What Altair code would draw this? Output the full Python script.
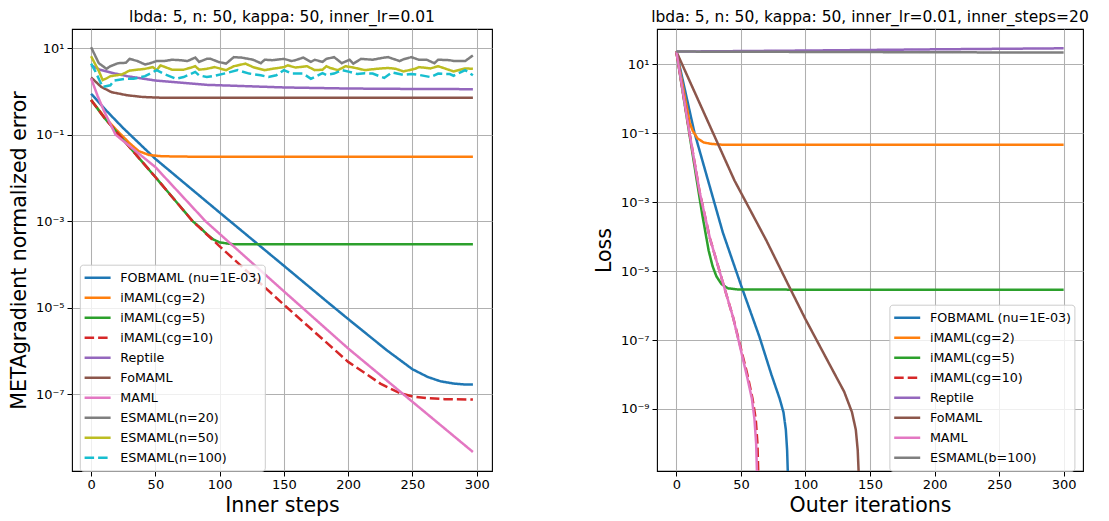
import altair as alt
import pandas as pd

# ---------------- Left panel (values given as log10 exponents) ----------------
L_NAMES = ["FOBMAML (nu=1E-03)", "iMAML(cg=2)", "iMAML(cg=5)", "iMAML(cg=10)", "Reptile",
           "FoMAML", "MAML", "ESMAML(n=20)", "ESMAML(n=50)", "ESMAML(n=100)"]
L_COLORS = ["#1f77b4", "#ff7f0e", "#2ca02c", "#d62728", "#9467bd",
            "#8c564b", "#e377c2", "#7f7f7f", "#bcbd22", "#17becf"]
L_DASHED = ["iMAML(cg=10)", "ESMAML(n=100)"]

fob_x = [0, 12, 25, 50, 100, 150, 184, 200, 230, 250, 262, 272, 282, 290, 297]
fob_e = [-0.055, -0.45, -0.85, -1.56, -2.8, -4.03, -4.87, -5.26, -5.98, -6.42, -6.6, -6.7, -6.75, -6.77, -6.77]

im2_x = [0, 10, 20, 30, 37, 45, 55, 80, 150, 297]
im2_e = [-0.2, -0.58, -0.9, -1.2, -1.38, -1.47, -1.5, -1.51, -1.51, -1.51]

im5_x = [0, 10, 25, 50, 79, 85, 90, 95, 100, 110, 130, 200, 297]
im5_e = [-0.2, -0.6, -1.12, -1.98, -3.0, -3.15, -3.3, -3.42, -3.49, -3.53, -3.53, -3.53, -3.53]

im10_x = [0, 10, 25, 50, 79, 100, 150, 200, 225, 240, 250, 262, 275, 297]
im10_e = [-0.2, -0.6, -1.12, -1.98, -3.0, -3.58, -4.93, -6.25, -6.75, -6.97, -7.05, -7.09, -7.11, -7.12]

rep_x = [0, 7, 16, 28, 50, 90, 100, 150, 200, 250, 297]
rep_e = [0.6, 0.5, 0.43, 0.35, 0.25, 0.15, 0.14, 0.09, 0.065, 0.055, 0.05]

fo_x = [0, 8, 16, 28, 40, 55, 80, 297]
fo_e = [0.32, 0.1, -0.02, -0.09, -0.13, -0.148, -0.15, -0.15]

maml_x = [0, 5, 10, 19, 50, 89, 150, 200, 297]
maml_e = [0.3, -0.1, -0.45, -1.0, -1.75, -3.0, -4.62, -5.94, -8.33]

es20_x = [0, 6, 12, 15, 21, 27, 30, 36, 42, 45, 51, 57, 63, 69, 75, 81, 84, 90, 93, 99, 105,
          111, 117, 126, 132, 135, 141, 150, 156, 159, 165, 171, 174, 180, 183, 189, 195, 201,
          204, 210, 219, 228, 231, 240, 243, 249, 255, 261, 267, 270, 279, 282, 291, 297]
es20_e = [1.02, 0.65, 0.52, 0.58, 0.65, 0.66, 0.75, 0.70, 0.62, 0.64, 0.70, 0.70, 0.73, 0.72,
          0.70, 0.78, 0.68, 0.75, 0.75, 0.68, 0.64, 0.79, 0.78, 0.73, 0.65, 0.73, 0.72, 0.75,
          0.70, 0.72, 0.78, 0.68, 0.73, 0.68, 0.75, 0.79, 0.65, 0.73, 0.64, 0.75, 0.73, 0.78,
          0.79, 0.70, 0.74, 0.79, 0.73, 0.73, 0.65, 0.73, 0.72, 0.70, 0.70, 0.83]

es50_x = [0, 6, 9, 12, 15, 24, 30, 42, 48, 51, 54, 63, 72, 78, 81, 84, 90, 96, 105, 111, 120,
          126, 135, 141, 150, 153, 159, 168, 174, 180, 183, 186, 192, 198, 204, 213, 222, 231,
          237, 243, 252, 255, 264, 270, 279, 282, 291, 297]
es50_e = [0.81, 0.47, 0.26, 0.3, 0.35, 0.39, 0.48, 0.52, 0.56, 0.49, 0.60, 0.50, 0.50, 0.55,
          0.58, 0.50, 0.52, 0.56, 0.49, 0.58, 0.64, 0.56, 0.49, 0.52, 0.56, 0.60, 0.55, 0.58,
          0.49, 0.50, 0.58, 0.54, 0.49, 0.58, 0.55, 0.49, 0.52, 0.54, 0.52, 0.46, 0.52, 0.56,
          0.53, 0.58, 0.49, 0.46, 0.53, 0.52]

es100_x = [0, 3, 9, 15, 18, 27, 33, 42, 51, 57, 66, 72, 81, 84, 90, 96, 105, 114, 123, 132,
           138, 144, 150, 156, 165, 171, 180, 183, 189, 195, 201, 207, 213, 219, 228, 234, 243,
           249, 255, 264, 270, 279, 282, 291, 297]
es100_e = [0.64, 0.48, 0.10, 0.14, 0.25, 0.29, 0.29, 0.35, 0.49, 0.40, 0.29, 0.33, 0.45, 0.37,
           0.33, 0.36, 0.42, 0.49, 0.41, 0.37, 0.33, 0.37, 0.49, 0.41, 0.41, 0.29, 0.42, 0.38,
           0.41, 0.49, 0.45, 0.40, 0.42, 0.41, 0.31, 0.44, 0.38, 0.40, 0.38, 0.33, 0.41, 0.40,
           0.36, 0.49, 0.37]

# ---------------- Right panel (values given as log10 exponents) ----------------
R_NAMES = ["FOBMAML (nu=1E-03)", "iMAML(cg=2)", "iMAML(cg=5)", "iMAML(cg=10)", "Reptile",
           "FoMAML", "MAML", "ESMAML(b=100)"]
R_COLORS = ["#1f77b4", "#ff7f0e", "#2ca02c", "#d62728", "#9467bd",
            "#8c564b", "#e377c2", "#7f7f7f"]
R_DASHED = ["iMAML(cg=10)"]

r_fob_x = [0, 14, 36, 50, 64.3, 73.6, 80, 83, 84.8, 85.8, 86.3, 86.6]
r_fob_e = [1.37, -0.98, -3.88, -5.4, -6.9, -8.0, -8.7, -9.1, -9.6, -10.2, -10.8, -12.0]

r_im2_x = [0, 10.3, 12.7, 16.4, 21.3, 27.5, 34.8, 60, 300]
r_im2_e = [1.37, -0.69, -0.93, -1.15, -1.27, -1.31, -1.33, -1.33, -1.33]

r_im5_x = [0, 10, 20, 25, 28, 31, 35, 40, 47, 100, 300]
r_im5_e = [1.37, -1.0, -3.35, -4.4, -4.85, -5.15, -5.38, -5.5, -5.53, -5.54, -5.54]

r_im10_x = [0, 10, 18, 26, 35, 44, 50, 55, 59, 61.5, 62.8, 63.4, 63.7]
r_im10_e = [1.37, -0.95, -2.7, -4.05, -5.2, -6.35, -7.25, -8.0, -8.7, -9.3, -10.0, -10.8, -12.0]

r_rep_x = [0, 100, 200, 300]
r_rep_e = [1.37, 1.40, 1.435, 1.465]

r_fo_x = [0, 45, 69.7, 88.2, 99.8, 119, 130, 136, 139, 140.5, 141.2, 141.5]
r_fo_e = [1.37, -2.37, -4.11, -5.51, -6.38, -7.73, -8.5, -9.09, -9.6, -10.2, -10.83, -12.0]

r_maml_x = [0, 10, 18, 26, 35, 44, 50, 55, 58.5, 60.5, 61.8, 62.4, 62.7]
r_maml_e = [1.37, -0.95, -2.7, -4.05, -5.2, -6.35, -7.3, -8.1, -8.7, -9.3, -10.0, -10.8, -12.0]

r_es_x = [0, 100, 200, 300]
r_es_e = [1.37, 1.36, 1.35, 1.34]


def series(xs, es, name):
    return pd.DataFrame({"x": xs, "y": [10.0 ** e for e in es], "series": name})


left_df = pd.concat([
    series(fob_x, fob_e, L_NAMES[0]), series(im2_x, im2_e, L_NAMES[1]),
    series(im5_x, im5_e, L_NAMES[2]), series(im10_x, im10_e, L_NAMES[3]),
    series(rep_x, rep_e, L_NAMES[4]), series(fo_x, fo_e, L_NAMES[5]),
    series(maml_x, maml_e, L_NAMES[6]), series(es20_x, es20_e, L_NAMES[7]),
    series(es50_x, es50_e, L_NAMES[8]), series(es100_x, es100_e, L_NAMES[9]),
], ignore_index=True)

right_df = pd.concat([
    series(r_fob_x, r_fob_e, R_NAMES[0]), series(r_im2_x, r_im2_e, R_NAMES[1]),
    series(r_im5_x, r_im5_e, R_NAMES[2]), series(r_im10_x, r_im10_e, R_NAMES[3]),
    series(r_rep_x, r_rep_e, R_NAMES[4]), series(r_fo_x, r_fo_e, R_NAMES[5]),
    series(r_maml_x, r_maml_e, R_NAMES[6]), series(r_es_x, r_es_e, R_NAMES[7]),
], ignore_index=True)
left_df["order"] = range(len(left_df))
right_df["order"] = range(len(right_df))

FONT = "DejaVu Sans"
SUP = ("datum.value > 50 ? '10²' : datum.value > 5 ? '10¹' : datum.value > 0.05 ? '10⁻¹' : "
       "datum.value > 5e-4 ? '10⁻³' : datum.value > 5e-6 ? '10⁻⁵' : datum.value > 5e-8 ? '10⁻⁷' : '10⁻⁹'")


def legend(x, y):
    return alt.Legend(orient="none", legendX=x, legendY=y, title=None, symbolType="stroke",
                      symbolSize=676, symbolStrokeWidth=2.5, symbolOffset=0,
                      labelFont=FONT, labelFontSize=12.7, labelColor="black", labelLimit=300,
                      clipHeight=19.4, rowPadding=0, labelOffset=8.2, padding=3.3,
                      fillColor="rgba(255,255,255,0.8)", strokeColor="#cccccc", cornerRadius=3)


def panel(df, names, colors, dashed, xdom, ydom, yvals, ytitle, xtitle, title, w, h, lx, ly):
    dash_range = [[9.5, 4] if n in dashed else [1, 0] for n in names]
    return alt.Chart(df).mark_line(clip=True, strokeWidth=2.5).encode(
        x=alt.X("x:Q", scale=alt.Scale(domain=xdom, nice=False, zero=False),
                axis=alt.Axis(values=[0, 50, 100, 150, 200, 250, 300], title=xtitle, format="d",
                              labelPadding=2, titlePadding=4.5)),
        y=alt.Y("y:Q", scale=alt.Scale(type="log", domain=ydom, nice=False),
                axis=alt.Axis(values=yvals, title=ytitle, labelExpr=SUP, labelPadding=3,
                              minExtent=36, maxExtent=36, titlePadding=7)),
        color=alt.Color("series:N", scale=alt.Scale(domain=names, range=colors), legend=legend(lx, ly)),
        strokeDash=alt.StrokeDash("series:N", scale=alt.Scale(domain=names, range=dash_range),
                                  legend=legend(lx, ly)),
        order="order:Q",
    ).properties(width=w, height=h, title=alt.TitleParams(title, font=FONT, fontSize=15.5,
                                                          fontWeight="normal", color="black", offset=4))


left = panel(left_df, L_NAMES, L_COLORS, L_DASHED, [-14.85, 311.85],
             [10 ** -8.77, 10 ** 1.44], [1e1, 1e-1, 1e-3, 1e-5, 1e-7],
             "METAgradient normalized error", "Inner steps",
             "lbda: 5, n: 50, kappa: 50, inner_lr=0.01", 420, 442, 7.8, 235.7)
right = panel(right_df, R_NAMES, R_COLORS, R_DASHED, [-15, 315],
              [10 ** -10.8, 10 ** 2.025], [1e1, 1e-1, 1e-3, 1e-5, 1e-7, 1e-9],
              "Loss", "Outer iterations",
              "lbda: 5, n: 50, kappa: 50, inner_lr=0.01, inner_steps=20", 426, 442, 232.4, 275.7)

chart = alt.hconcat(left, right, spacing=100).resolve_scale(
    color="independent", strokeDash="independent"
).resolve_legend(color="independent", strokeDash="independent").properties(
    padding=0
).configure_view(stroke="black", strokeWidth=1.1).configure_axis(
    grid=True, gridColor="#b0b0b0", gridWidth=1.05, domain=False, ticks=True,
    tickColor="black", tickSize=5, tickWidth=1.05, labelFont=FONT, labelFontSize=13,
    labelColor="black", titleFont=FONT, titleFontSize=20.5,
    titleFontWeight="normal", titleColor="black"
)

chart.save("out.html", embed_options={"renderer": "svg", "actions": False})
